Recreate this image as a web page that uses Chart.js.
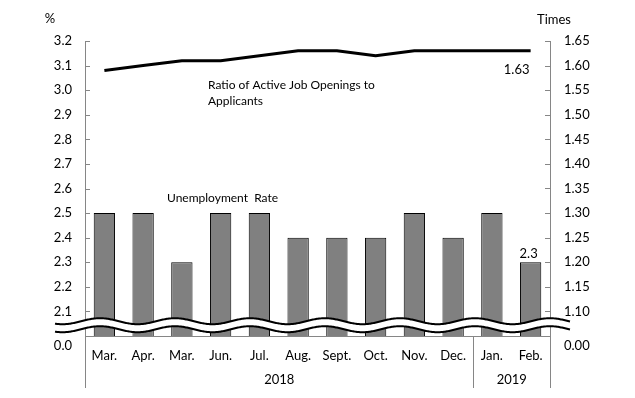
<!DOCTYPE html>
<html>
<head>
<meta charset="utf-8">
<script src="https://cdn.jsdelivr.net/npm/chart.js@4/dist/chart.umd.min.js"></script>
<style>
  html, body { margin: 0; padding: 0; background: #fff; }
  #wrap { width: 635px; height: 398px; }
</style>
</head>
<body>
<div id="wrap"><canvas id="chart" width="635" height="398"></canvas></div>
<script>
// data
const months = ['Mar.', 'Apr.', 'Mar.', 'Jun.', 'Jul.', 'Aug.', 'Sept.', 'Oct.', 'Nov.', 'Dec.', 'Jan.', 'Feb.'];
const years = ['2018', '2019'];
const yearSpans = [10, 2];
const unemployment = [2.5, 2.5, 2.3, 2.5, 2.5, 2.4, 2.4, 2.4, 2.5, 2.4, 2.5, 2.3];
const jobRatio = [1.59, 1.60, 1.61, 1.61, 1.62, 1.63, 1.63, 1.62, 1.63, 1.63, 1.63, 1.63];

const FONT = 'Lato, "Open Sans", sans-serif';
const AXIS = '#868686';

// extra drawing: wavy break, inner ticks, axis extensions, labels
const extras = {
  id: 'extras',
  afterDatasetsDraw(chart) {
    const ctx = chart.ctx;
    const y = chart.scales.y;
    const c = y.getPixelForValue(2.05) + 1.5;
    const x0 = 55, x1 = 570, period = 75, amp = 3, half = 4;
    const wave = (x, off) => c + off + amp * Math.cos(2 * Math.PI * (x - 100) / period + Math.PI);
    ctx.save();
    // white band
    ctx.beginPath();
    for (let x = x0; x <= x1; x++) ctx.lineTo(x, wave(x, -half));
    for (let x = x1; x >= x0; x--) ctx.lineTo(x, wave(x, half));
    ctx.closePath();
    ctx.fillStyle = '#fff';
    ctx.fill();
    ctx.strokeStyle = '#000';
    ctx.lineWidth = 2;
    [-half, half].forEach(off => {
      ctx.beginPath();
      for (let x = x0; x <= x1; x++) ctx.lineTo(x, wave(x, off));
      ctx.stroke();
    });
    ctx.restore();
  },
  afterDraw(chart) {
    const ctx = chart.ctx;
    const { x, y, y1 } = chart.scales;
    const area = chart.chartArea;
    ctx.save();
    ctx.strokeStyle = AXIS;
    ctx.lineWidth = 1;
    // inner tick marks
    y.ticks.forEach(t => {
      if (t.value <= y.min) return;
      const py = Math.round(y.getPixelForValue(t.value)) + 0.5;
      ctx.beginPath(); ctx.moveTo(area.left, py); ctx.lineTo(area.left + 5, py); ctx.stroke();
    });
    y1.ticks.forEach(t => {
      if (t.value <= y1.min) return;
      const py = Math.round(y1.getPixelForValue(t.value)) + 0.5;
      ctx.beginPath(); ctx.moveTo(area.right - 5, py); ctx.lineTo(area.right, py); ctx.stroke();
    });
    // vertical lines under the axis (year groups)
    const bottom = area.bottom + 52;
    const lx = Math.round(area.left) + 0.5;
    const rx = Math.round(area.right) + 0.5;
    const sepX = Math.round(x.getPixelForValue(yearSpans[0]) - (x.getPixelForValue(1) - x.getPixelForValue(0)) / 2) + 0.5;
    [lx, sepX, rx].forEach(px => {
      ctx.beginPath(); ctx.moveTo(px, area.bottom); ctx.lineTo(px, bottom); ctx.stroke();
    });
    // texts
    ctx.fillStyle = '#000';
    ctx.font = '13px ' + FONT;
    ctx.textBaseline = 'middle';
    ctx.textAlign = 'right';
    ctx.fillText('0.0', area.left - 13, area.bottom + 10);
    ctx.textAlign = 'left';
    ctx.fillText('0.00', area.right + 14, area.bottom + 10);
    // year labels
    ctx.textAlign = 'center';
    let start = area.left;
    yearSpans.forEach((n, i) => {
      const end = i === 0 ? sepX : area.right;
      ctx.fillText(years[i], (start + end) / 2, area.bottom + 44);
      start = end;
    });
    // units
    ctx.fillText('%', 50, 19);
    ctx.fillText('Times', 554, 20);
    // series names
    ctx.textAlign = 'left';
    ctx.font = '12px ' + FONT;
    ctx.fillText('Ratio of Active Job Openings to', 208, 85);
    ctx.fillText('Applicants', 208, 101);
    ctx.fillText('Unemployment  Rate', 167, 198);
    // value labels for last points
    ctx.font = '13px ' + FONT;
    ctx.textAlign = 'center';
    const last = months.length - 1;
    const lastX = x.getPixelForValue(last);
    ctx.fillText(jobRatio[last].toFixed(2), lastX - 14, y1.getPixelForValue(jobRatio[last]) + 19);
    ctx.fillText(unemployment[last].toFixed(1), lastX - 2, y.getPixelForValue(unemployment[last]) - 8);
    ctx.restore();
  }
};

new Chart(document.getElementById('chart'), {
  data: {
    labels: months,
    datasets: [
      {
        type: 'line',
        label: 'Ratio of Active Job Openings to Applicants',
        data: jobRatio,
        yAxisID: 'y1',
        borderColor: '#000',
        borderWidth: 3,
        pointRadius: 0,
        tension: 0,
        borderJoinStyle: 'round',
        order: 0
      },
      {
        type: 'bar',
        label: 'Unemployment Rate',
        data: unemployment,
        yAxisID: 'y',
        backgroundColor: '#808080',
        borderColor: '#000',
        borderWidth: 1,
        barPercentage: 0.55,
        categoryPercentage: 1,
        order: 1
      }
    ]
  },
  options: {
    responsive: false,
    animation: false,
    events: [],
    layout: { padding: { top: 41, left: 0, right: 0, bottom: 0 } },
    plugins: { legend: { display: false }, tooltip: { enabled: false } },
    scales: {
      x: {
        grid: { display: false, drawTicks: false },
        border: { color: AXIS },
        ticks: { color: '#000', font: { family: FONT, size: 13 }, padding: 12, maxRotation: 0, autoSkip: false },
        afterFit(s) { s.height = 62; }
      },
      y: {
        position: 'left',
        min: 2.0,
        max: 3.2,
        grid: { display: false, drawTicks: false },
        border: { color: AXIS },
        ticks: {
          stepSize: 0.1,
          color: '#000',
          font: { family: FONT, size: 13 },
          padding: 13,
          callback: v => v <= 2.0 ? '' : v.toFixed(1)
        },
        afterFit(s) { s.width = 85; }
      },
      y1: {
        position: 'right',
        min: 1.05,
        max: 1.65,
        grid: { display: false, drawTicks: false },
        border: { color: AXIS },
        ticks: {
          stepSize: 0.05,
          color: '#000',
          font: { family: FONT, size: 13 },
          padding: 14,
          callback: v => v <= 1.05 ? '' : v.toFixed(2)
        },
        afterFit(s) { s.width = 85; }
      }
    }
  },
  plugins: [extras]
});
</script>
</body>
</html>
